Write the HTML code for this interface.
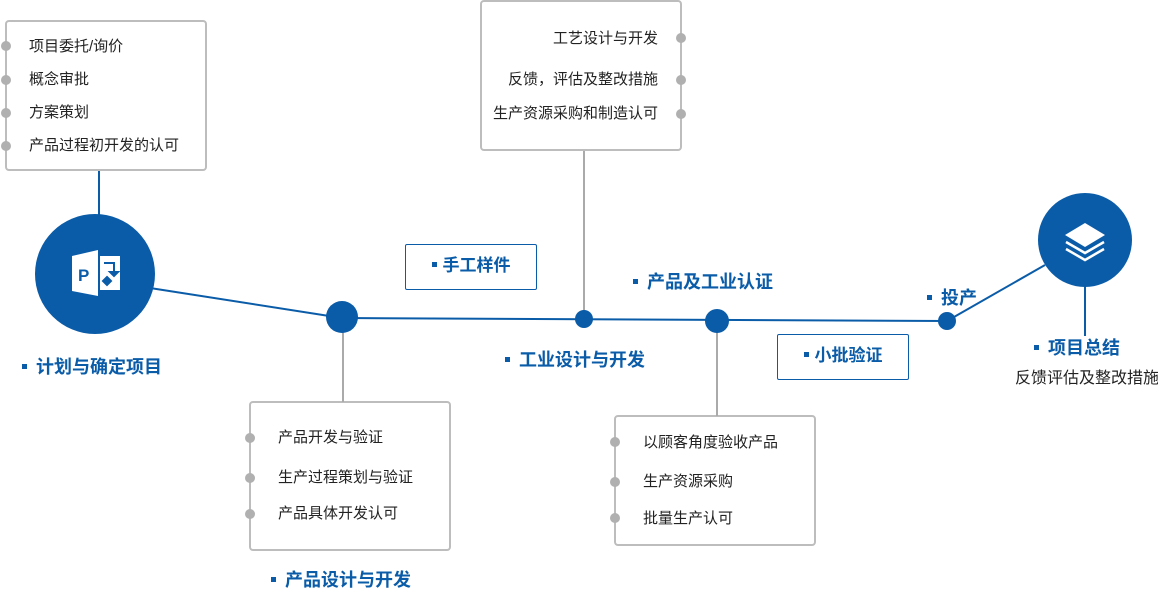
<!DOCTYPE html>
<html><head><meta charset="utf-8"><style>
body{margin:0;width:1158px;height:589px;background:#fff;position:relative;overflow:hidden;font-family:"Liberation Sans","Noto Sans CJK SC",sans-serif}
.box{position:absolute;border:2px solid #bdbdbd;border-radius:4px;background:#fff;box-sizing:border-box}
.t{position:absolute;font-size:15px;color:#222;white-space:nowrap;line-height:16px}
.lb{position:absolute;font-size:18px;font-weight:bold;color:#0b5ca8;white-space:nowrap;line-height:18px}
.lb:before{content:"";display:inline-block;width:5px;height:5px;background:#0b5ca8;margin-right:9px;vertical-align:middle;position:relative;top:-2px}
.tag{position:absolute;border:1px solid #0b5ca8;border-radius:2px;box-sizing:border-box;font-size:17px;font-weight:bold;color:#0b5ca8;text-align:center;line-height:42px}
.tag:before{content:"";display:inline-block;width:5px;height:5px;background:#0b5ca8;margin-right:6px;vertical-align:middle;position:relative;top:-2px}
svg{position:absolute;left:0;top:0}
</style></head><body>
<div class="box" style="left:5px;top:20px;width:202px;height:151px"></div>
<div class="box" style="left:480px;top:0px;width:202px;height:151px"></div>
<div class="box" style="left:249px;top:401px;width:202px;height:150px"></div>
<div class="box" style="left:614px;top:415px;width:202px;height:131px"></div>
<svg width="1158" height="589">
<g stroke="#0b5ca8" stroke-width="2" fill="none">
<line x1="99" y1="171" x2="99" y2="216"/>
<line x1="150" y1="288" x2="342" y2="318"/>
<line x1="342" y1="318" x2="947" y2="321"/>
<line x1="947" y1="321" x2="1045" y2="265"/>
<line x1="1085" y1="285" x2="1085" y2="336"/>
</g>
<g stroke="#aaa" stroke-width="2">
<line x1="343" y1="330" x2="343" y2="402"/>
<line x1="584" y1="151" x2="584" y2="312"/>
<line x1="717" y1="330" x2="717" y2="416"/>
</g>
<g fill="#0b5ca8">
<circle cx="95" cy="274" r="60"/>
<circle cx="342" cy="317" r="16"/>
<circle cx="584" cy="319" r="9"/>
<circle cx="717" cy="321" r="12"/>
<circle cx="947" cy="321" r="9"/>
<circle cx="1085" cy="240" r="47"/>
</g>
<g fill="#b0b0b0">
<circle cx="6" cy="46" r="5"/><circle cx="6" cy="80" r="5"/><circle cx="6" cy="113" r="5"/><circle cx="6" cy="146" r="5"/>
<circle cx="681" cy="38" r="5"/><circle cx="681" cy="80" r="5"/><circle cx="681" cy="114" r="5"/>
<circle cx="250" cy="438" r="5"/><circle cx="250" cy="478" r="5"/><circle cx="250" cy="514" r="5"/>
<circle cx="615" cy="442" r="5"/><circle cx="615" cy="482" r="5"/><circle cx="615" cy="518" r="5"/>
</g>
<g fill="#fff">
<polygon points="72,256 98,250 98,296 72,291"/>
<rect x="100" y="256" width="20" height="34"/>
<text x="78" y="281" font-family="Liberation Sans" font-weight="bold" font-size="17" fill="#0b5ca8">P</text>
<polygon points="1085,223 1105,235 1085,247 1065,235"/>
<polyline points="1066,242 1085,253 1104,242" stroke="#fff" stroke-width="2.5" fill="none"/>
<polyline points="1066,249 1085,260 1104,249" stroke="#fff" stroke-width="2.5" fill="none"/>
</g>
<g fill="none" stroke="#0b5ca8" stroke-width="2"><polyline points="104,263 114,263 114,272"/><polygon points="110,272 118,272 114,276" fill="#0b5ca8"/><polygon points="107,277 111,281 107,285 103,281" fill="#0b5ca8"/></g>
</svg>
<div class="t" style="left:29px;top:39px">项目委托/询价</div>
<div class="t" style="left:29px;top:72px">概念审批</div>
<div class="t" style="left:29px;top:105px">方案策划</div>
<div class="t" style="left:29px;top:138px">产品过程初开发的认可</div>
<div class="t" style="left:470px;width:188px;text-align:right;top:31px">工艺设计与开发</div>
<div class="t" style="left:470px;width:188px;text-align:right;top:72px">反馈，评估及整改措施</div>
<div class="t" style="left:470px;width:188px;text-align:right;top:106px">生产资源采购和制造认可</div>
<div class="t" style="left:278px;top:430px">产品开发与验证</div>
<div class="t" style="left:278px;top:470px">生产过程策划与验证</div>
<div class="t" style="left:278px;top:506px">产品具体开发认可</div>
<div class="t" style="left:643px;top:435px">以顾客角度验收产品</div>
<div class="t" style="left:643px;top:474px">生产资源采购</div>
<div class="t" style="left:643px;top:511px">批量生产认可</div>
<div class="tag" style="left:405px;top:244px;width:132px;height:46px">手工样件</div>
<div class="tag" style="left:777px;top:334px;width:132px;height:46px">小批验证</div>
<div class="lb" style="left:22px;top:358px">计划与确定项目</div>
<div class="lb" style="left:505px;top:351px">工业设计与开发</div>
<div class="lb" style="left:633px;top:273px">产品及工业认证</div>
<div class="lb" style="left:927px;top:289px">投产</div>
<div class="lb" style="left:1034px;top:339px">项目总结</div>
<div class="t" style="left:1015px;top:371px;font-size:16px">反馈评估及整改措施</div>
<div class="lb" style="left:271px;top:571px">产品设计与开发</div>
</body></html>
